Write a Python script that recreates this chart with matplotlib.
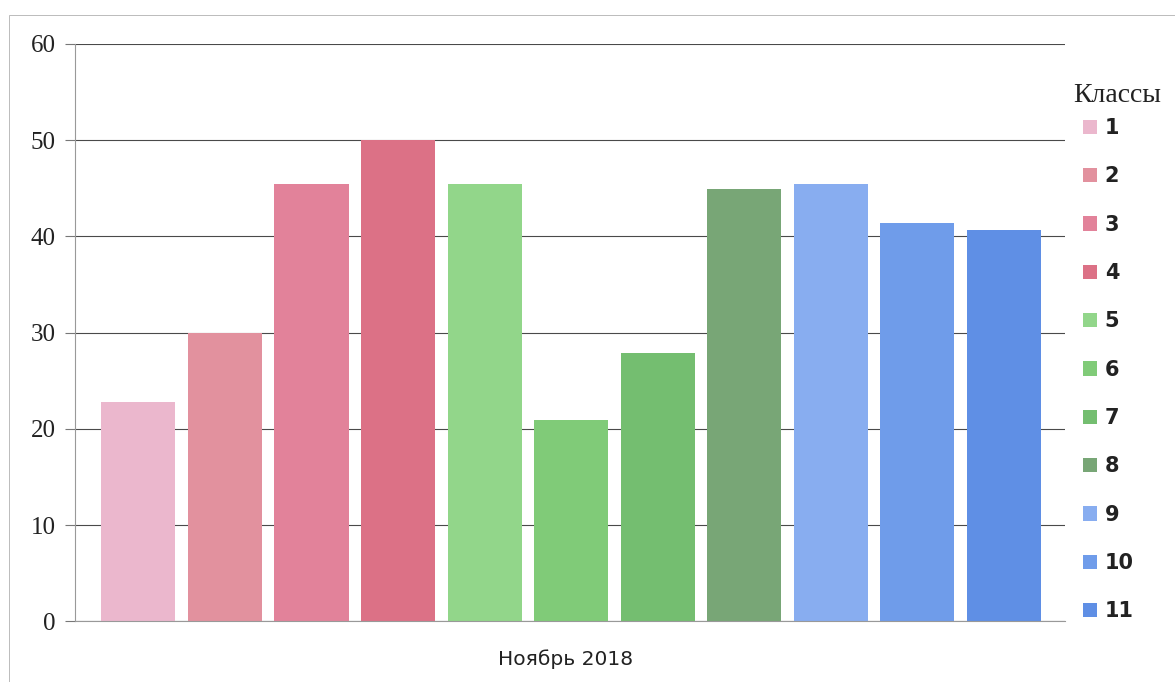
import matplotlib.pyplot as plt
from matplotlib.patches import Rectangle

# Классы и средние значения за ноябрь 2018
classes = ['1', '2', '3', '4', '5', '6', '7', '8', '9', '10', '11']
values = [22.8, 30.0, 45.5, 50.0, 45.4, 20.9, 27.9, 44.9, 45.4, 41.4, 40.7]
colors = ['#EBB7CD', '#E2919E', '#E2829A', '#DC7186',
          '#92D68A', '#80CB78', '#74BE70', '#78A676',
          '#88ADF0', '#6F9CEA', '#5F8FE5']
category = 'Ноябрь 2018'

fig = plt.figure(figsize=(11.75, 6.82), dpi=100)
ax = fig.add_axes([0.064, 0.089, 0.842, 0.8465])

for i in range(len(values)):
    ax.bar(i, values[i], width=0.855, color=colors[i], label=classes[i], zorder=2)

ax.set_xlim(-0.73, 10.7)
ax.set_ylim(0, 60)
ax.set_yticks(range(0, 61, 10))
ax.set_xticks([4.93])
ax.set_xticklabels([category], family=['DejaVu Sans'], fontsize=14.5, color='#222222')
ax.tick_params(axis='x', length=0, pad=20)
ax.tick_params(axis='y', length=7, width=0.8, color='#777777', pad=7,
               labelsize=18, labelcolor='#222222')
for lab in ax.get_yticklabels():
    lab.set_family(['Liberation Serif'])

ax.grid(axis='y', color='#4a4a4a', linewidth=0.8, zorder=0)
for side in ['top', 'right']:
    ax.spines[side].set_visible(False)
ax.spines['left'].set_color('#999999')
ax.spines['bottom'].set_color('#999999')

leg = ax.legend(loc='upper left', bbox_to_anchor=(1.010, 0.886),
                frameon=False, handlelength=0.7, handleheight=0.7,
                handletextpad=0.35, labelspacing=1.36, borderaxespad=0,
                prop={'family': 'DejaVu Sans', 'size': 15, 'weight': 'bold'})
for t in leg.get_texts():
    t.set_color('#222222')
fig.text(0.9506, 0.8607, 'Классы', family='Liberation Serif', fontsize=20,
         color='#222222', ha='center', va='center')

# тонкая рамка по краю листа
fig.patches.append(Rectangle((0.008, 0.0), 0.992, 0.978, transform=fig.transFigure,
                             fill=False, edgecolor='#bbbbbb', linewidth=0.7))

fig.savefig('out.png', dpi=100)
